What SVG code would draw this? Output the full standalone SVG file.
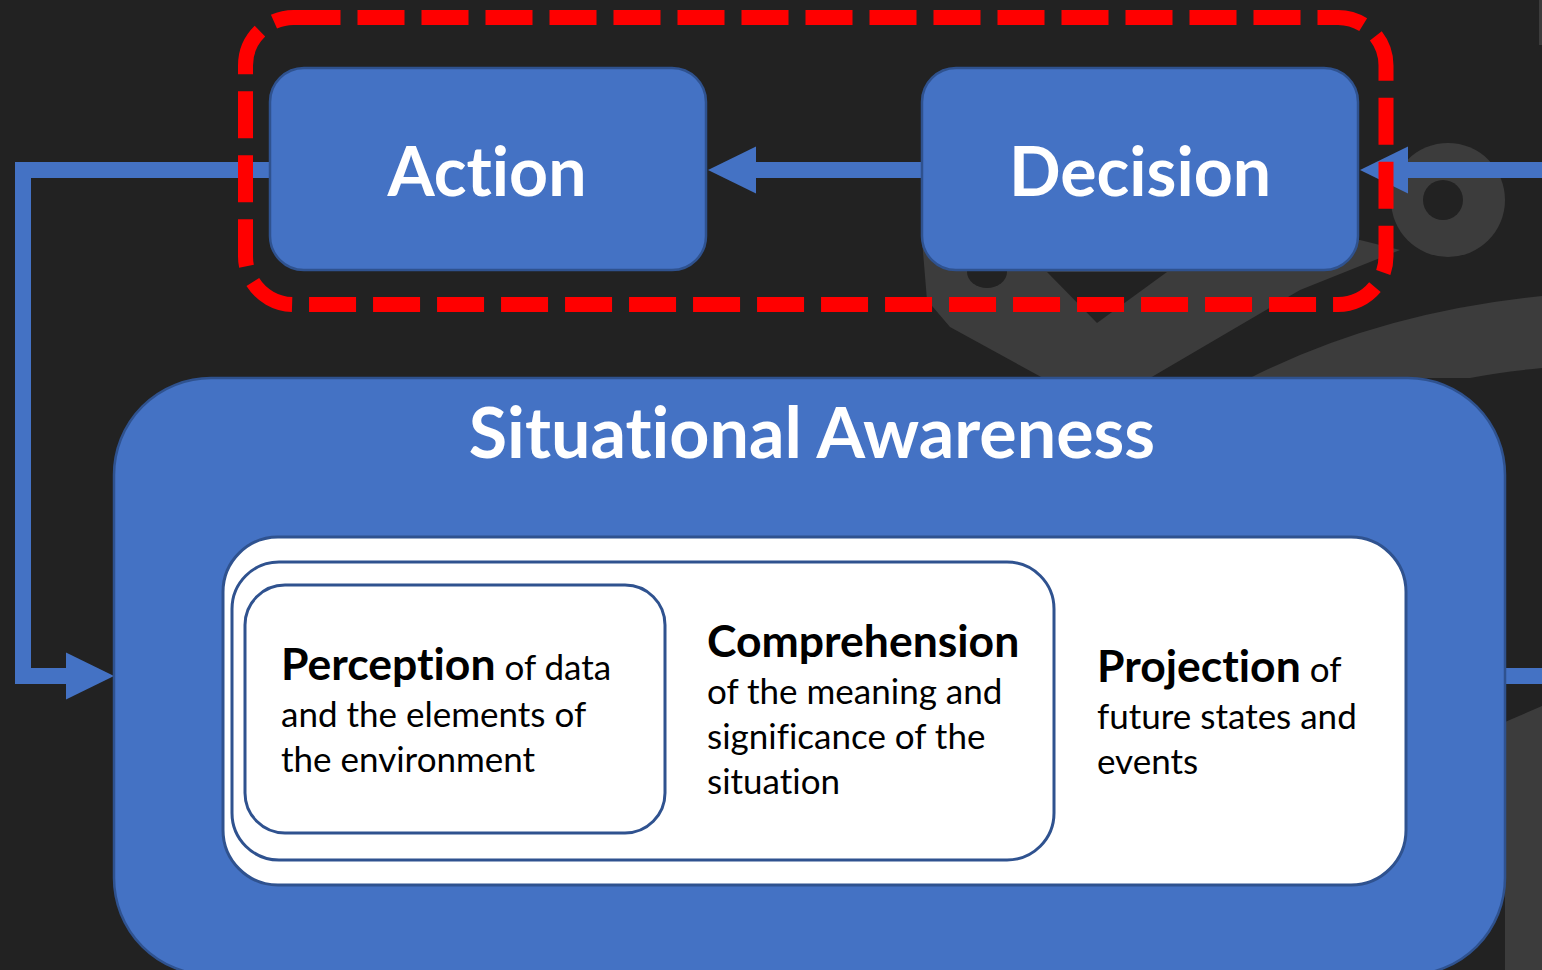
<svg xmlns="http://www.w3.org/2000/svg" width="1542" height="970" viewBox="0 0 1542 970">
<style>
text{font-variant-ligatures:none;font-feature-settings:"liga" 0,"clig" 0}
.bg{fill:#222222}
.logo{fill:#3c3c3c}
.hole{fill:#222222}
.node{fill:#4472C4;stroke:#2F528F;stroke-width:2.5}
.white{fill:#FFFFFF;stroke:#2F528F;stroke-width:3}
.conn{fill:none;stroke:#4472C4;stroke-width:16;stroke-linejoin:miter}
.dash{fill:none;stroke:#FF0000;stroke-width:15;stroke-dasharray:47 17}
.title{font-family:Lato,"Open Sans",sans-serif;font-weight:bold;fill:#FFFFFF;text-anchor:middle}
.body{font-family:Lato,"Open Sans",sans-serif;font-size:35px;fill:#000000}
.b{font-weight:bold;font-size:44.5px}
</style>
<defs>
<marker id="ah" markerUnits="userSpaceOnUse" markerWidth="48" markerHeight="48" refX="1" refY="23.5" orient="auto" viewBox="0 0 48 47">
<path d="M0,0 L48,23.5 L0,47 z" fill="#4472C4"/>
</marker>
</defs>
<rect class="bg" x="0" y="0" width="1542" height="970"/>
<g id="background-logo">
<polygon class="logo" points="922,240 1360,240 1400,250 1300,290 1150,378 1043,378 950,327 927,300"/>
<polygon class="hole" points="1047,272 1167,272 1097,323"/>
<ellipse class="hole" cx="987" cy="272" rx="20" ry="16"/>
<circle class="logo" cx="1448" cy="200" r="57"/>
<circle class="hole" cx="1443" cy="200" r="20"/>
<path class="logo" d="M1250,378 Q1380,312 1542,296 L1542,368 Q1500,372 1470,378 Z"/>
<polygon class="logo" points="1505,722 1542,706 1542,970 1505,970"/>
<rect class="logo" x="1539" y="0" width="3" height="45"/>
</g>
<g id="connectors">
<path class="conn" d="M922,170 L755,170" marker-end="url(#ah)"/>
<path class="conn" d="M1542,170 L1407,170" marker-end="url(#ah)"/>
<path class="conn" d="M270,170 L23,170 L23,676 L67,676" marker-end="url(#ah)"/>
<path class="conn" d="M1505,676 L1542,676"/>
</g>
<g id="situational-awareness">
<rect class="node" x="114" y="378" width="1391" height="597" rx="97"/>
<text class="title" x="812" y="458" font-size="70">Situational Awareness</text>
<rect class="white" x="223" y="537" width="1183" height="348" rx="55"/>
</g>
<g id="comprehension">
<rect class="white" x="232" y="562" width="822" height="298" rx="47"/>
<text class="body" x="707"><tspan class="b" x="707" y="657">Comprehension</tspan><tspan x="707" y="704">of the meaning and</tspan><tspan x="707" y="749">significance of the</tspan><tspan x="707" y="794">situation</tspan></text>
</g>
<g id="perception">
<rect class="white" x="245" y="585" width="420" height="248" rx="40"/>
<text class="body" x="281"><tspan class="b" x="281" y="680">Perception</tspan><tspan> of data</tspan><tspan x="281" y="727">and the elements of</tspan><tspan x="281" y="772">the environment</tspan></text>
</g>
<g id="projection">
<text class="body" x="1097"><tspan class="b" x="1097" y="682">Projection</tspan><tspan> of</tspan><tspan x="1097" y="729">future states and</tspan><tspan x="1097" y="774">events</tspan></text>
</g>
<g id="action">
<rect class="node" x="270" y="68" width="436" height="202" rx="34"/>
<text class="title" x="487" y="196" font-size="68">Action</text>
</g>
<g id="decision">
<rect class="node" x="922" y="68" width="436" height="202" rx="34"/>
<text class="title" x="1140" y="196" font-size="68">Decision</text>
</g>
<g id="decision-action-boundary">
<rect class="dash" x="245.5" y="17.5" width="1140.5" height="287" rx="48"/>
</g>
</svg>
